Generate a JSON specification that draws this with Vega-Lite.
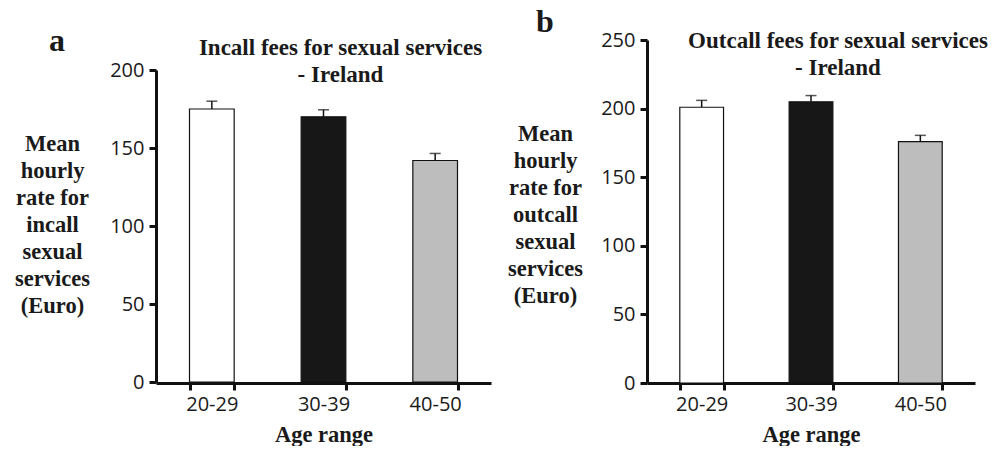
{
  "$schema": "https://vega.github.io/schema/vega-lite/v6.json",
  "background": "white",
  "padding": {"left": 14, "top": 5, "right": 0, "bottom": 0},
  "config": {
    "view": {"stroke": null},
    "font": "Liberation Serif",
    "title": {"font": "Liberation Serif", "fontWeight": "bold", "fontSize": 23, "color": "#1a1a1a", "lineHeight": 27},
    "axis": {
      "grid": false,
      "domainColor": "#111111",
      "domainWidth": 3,
      "tickColor": "#111111",
      "tickWidth": 3,
      "tickSize": 7,
      "labelFont": "Open Sans",
      "labelFontSize": 20,
      "labelColor": "#1a1a1a",
      "titleFont": "Liberation Serif",
      "titleFontSize": 22.5,
      "titleFontWeight": "bold",
      "titleColor": "#1a1a1a",
      "titleLineHeight": 27
    }
  },
  "bounds": "flush",
  "spacing": 156,
  "hconcat": [
    {
      "width": 335,
      "height": 343,
      "title": {"text": ["Incall fees for sexual services", "- Ireland"], "anchor": "middle", "dx": 17, "offset": -63},
      "data": {"values": [
        {"age": "20-29", "mean": 175, "upper": 180},
        {"age": "30-39", "mean": 170, "upper": 174.5},
        {"age": "40-50", "mean": 142, "upper": 146.5}
      ]},
      "resolve": {"axis": {"x": "independent"}},
      "layer": [
        {
          "mark": {"type": "bar", "stroke": "#111111", "strokeWidth": 1.2},
          "encoding": {
            "x": {"field": "age", "type": "nominal", "scale": {"paddingInner": 0.6, "paddingOuter": 0.3},
              "axis": {"orient": "bottom", "title": "Age range", "labelAngle": 0, "tickBand": "extent", "labelPadding": 4, "titlePadding": 9}},
            "y": {"field": "mean", "type": "quantitative", "scale": {"domain": [0, 200], "range": [342, 30], "nice": false},
              "axis": {"values": [0, 50, 100, 150, 200], "labelPadding": 5,
                "title": ["Mean", "hourly", "rate for", "incall", "sexual", "services", "(Euro)"],
                "titleAngle": 0, "titleX": -104, "titleY": 103, "titleAlign": "center", "titleBaseline": "middle"}},
            "fill": {"field": "age", "type": "nominal", "scale": {"range": ["#ffffff", "#171717", "#bdbdbd"]}, "legend": null}
          }
        },
        {
          "mark": {"type": "rule", "color": "#111111", "strokeWidth": 1.5},
          "encoding": {
            "x": {"field": "age", "type": "nominal",
              "axis": {"orient": "top", "domain": false, "ticks": false, "labels": false, "title": "a",
                "titleFontSize": 32, "titleAngle": 0, "titleX": -99.5, "titleY": 10, "titleAlign": "center", "titleBaseline": "alphabetic"}},
            "y": {"field": "mean", "type": "quantitative"}, "y2": {"field": "upper"}}
        },
        {
          "mark": {"type": "tick", "color": "#111111", "thickness": 1.5, "size": 11},
          "encoding": {
            "x": {"field": "age", "type": "nominal", "axis": null},
            "y": {"field": "upper", "type": "quantitative"}}
        }
      ]
    },
    {
      "width": 328,
      "height": 343,
      "title": {"text": ["Outcall fees for sexual services", "- Ireland"], "anchor": "middle", "dx": 27, "offset": -75},
      "data": {"values": [
        {"age": "20-29", "mean": 201, "upper": 206},
        {"age": "30-39", "mean": 205, "upper": 209.5},
        {"age": "40-50", "mean": 176, "upper": 180.5}
      ]},
      "resolve": {"axis": {"x": "independent"}},
      "layer": [
        {
          "mark": {"type": "bar", "stroke": "#111111", "strokeWidth": 1.2},
          "encoding": {
            "x": {"field": "age", "type": "nominal", "scale": {"paddingInner": 0.6, "paddingOuter": 0.3},
              "axis": {"orient": "bottom", "title": "Age range", "labelAngle": 0, "tickBand": "extent", "labelPadding": 4, "titlePadding": 9}},
            "y": {"field": "mean", "type": "quantitative", "scale": {"domain": [0, 250], "nice": false},
              "axis": {"values": [0, 50, 100, 150, 200, 250], "labelPadding": 5,
                "title": ["Mean", "hourly", "rate for", "outcall", "sexual", "services", "(Euro)"],
                "titleAngle": 0, "titleX": -102, "titleY": 93, "titleAlign": "center", "titleBaseline": "middle"}},
            "fill": {"field": "age", "type": "nominal", "scale": {"range": ["#ffffff", "#171717", "#bdbdbd"]}, "legend": null}
          }
        },
        {
          "mark": {"type": "rule", "color": "#111111", "strokeWidth": 1.5},
          "encoding": {
            "x": {"field": "age", "type": "nominal",
              "axis": {"orient": "top", "domain": false, "ticks": false, "labels": false, "title": "b",
                "titleFontSize": 32, "titleAngle": 0, "titleX": -102.5, "titleY": -9, "titleAlign": "center", "titleBaseline": "alphabetic"}},
            "y": {"field": "mean", "type": "quantitative"}, "y2": {"field": "upper"}}
        },
        {
          "mark": {"type": "tick", "color": "#111111", "thickness": 1.5, "size": 11},
          "encoding": {
            "x": {"field": "age", "type": "nominal", "axis": null},
            "y": {"field": "upper", "type": "quantitative"}}
        }
      ]
    }
  ]
}
